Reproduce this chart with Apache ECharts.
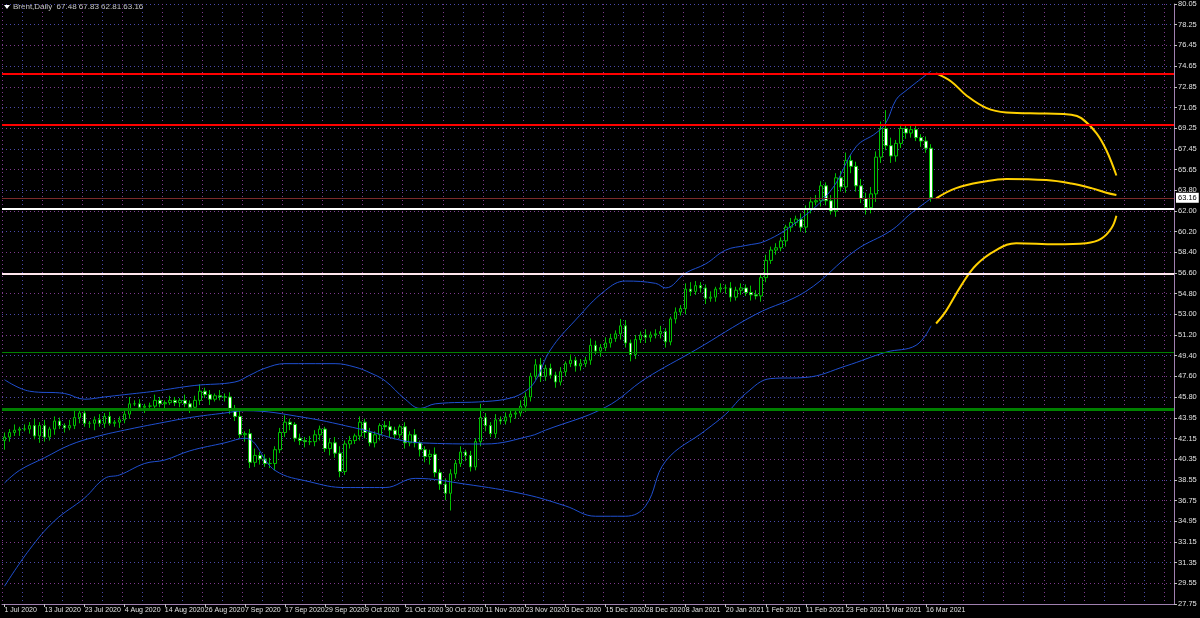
<!DOCTYPE html>
<html><head><meta charset="utf-8">
<script src="https://cdn.jsdelivr.net/npm/echarts@6/dist/echarts.min.js"></script>
<style>html,body{margin:0;padding:0;background:#000}#c{width:1200px;height:618px}</style>
</head><body><div id="c"></div>
<script>
const closes = [
42.3,42.7,42.9,43.0,43.0,43.3,42.4,43.3,42.3,43.0,43.7,43.3,43.1,43.3,44.0,44.4,43.5,43.5,43.8,43.5,44.1,43.5,43.6,43.8,44.3,45.2,45.2,44.9,45.0,45.0,45.5,45.2,45.3,45.5,45.3,45.5,45.2,44.9,45.5,46.3,46.0,45.6,45.9,45.8,45.8,44.8,
44.1,42.5,42.6,40.1,40.7,40.4,40.0,40.0,41.2,42.7,43.6,43.4,42.2,42.0,41.9,41.9,42.5,43.0,41.3,41.8,40.9,39.3,41.7,42.0,42.4,43.6,42.7,41.8,42.5,43.3,43.2,42.9,42.5,43.2,41.8,42.5,41.8,41.2,40.6,40.8,39.2,38.2,37.4,39.1,40.0,41.0,40.7,39.7,41.9,44.0,43.3,42.6,43.8,43.7,
44.05,44.3,44.4,45.0,45.8,47.6,48.6,47.6,48.3,47.7,47.1,48.0,48.7,49.0,48.5,48.7,49.0,50.3,49.8,50.1,50.5,50.9,51.3,52.0,50.5,49.5,50.8,51.2,51.0,51.2,51.3,51.5,50.6,52.6,53.2,53.5,55.2,55.0,55.5,55.3,54.4,54.5,55.2,55.3,55.3,54.5,55.1,55.3,54.9,54.7,54.6,
56.2,57.7,58.6,58.8,59.4,60.6,61.0,61.3,60.6,62.2,62.8,62.9,64.2,62.9,62.0,64.9,64.1,66.4,65.9,64.2,63.1,62.3,63.5,66.7,69.2,67.7,66.8,67.9,69.2,68.8,69.1,68.4,68.1,67.48,63.16];
const firstOpen = 42.0;
const wickUp = [
0.4,0.3,0.5,0.2,0.4,0.3,0.6,0.3,0.5,0.2, 0.4,0.3,0.2,0.5,0.6,0.3,0.4,0.2,0.3,0.5,
0.3,0.4,0.2,0.3,0.5,0.6,0.3,0.4,0.2,0.3, 0.5,0.3,0.2,0.4,0.3,0.2,0.5,0.3,0.4,0.6,
0.3,0.4,0.2,0.5,0.3,0.4,0.3,0.5,0.2,0.4, 0.6,0.3,0.4,0.5,0.3,0.4,0.6,0.3,0.2,0.4,
0.3,0.5,0.4,0.3,0.2,0.4,0.5,0.6,0.3,0.4, 0.2,0.5,0.3,0.4,0.3,0.2,0.4,0.5,0.3,0.2,
0.4,0.3,0.5,0.2,0.3,0.4,0.6,0.3,0.5,0.4, 0.3,0.5,0.2,0.4,0.3,1.2,0.4,0.3,0.5,0.3,
0.4,0.3,0.2,0.5,0.4,0.3,0.5,0.6,0.3,0.4, 0.3,0.4,0.2,0.5,0.3,0.4,0.3,0.6,0.4,0.3,
0.5,0.4,0.3,0.6,0.5,0.3,0.4,0.3,0.5,0.3, 0.4,0.5,0.3,0.2,0.4,0.3,0.5,0.6,0.4,0.3,
0.3,0.5,0.2,0.4,0.3,0.5,0.3,0.4,0.3,0.6, 0.4,0.3,0.5,0.3,0.4,0.3,0.2,0.4,0.3,0.5,
0.3,0.4,0.5,0.4,0.3,0.5,0.4,0.6,0.7,0.5, 0.4,0.6,0.5,0.6,0.5,0.6,1.6,0.7,0.3,0.4,
0.3,0.4,0.5,0.3,0.4,0.35];
const wickDn = [
0.8,0.4,0.3,0.5,0.2,0.4,0.3,0.6,0.4,0.3, 0.5,0.3,0.4,0.2,0.3,0.5,0.3,0.4,0.6,0.3,
0.4,0.2,0.3,0.5,0.3,0.4,0.2,0.3,0.5,0.3, 0.4,0.3,0.5,0.2,0.3,0.4,0.3,0.5,0.3,0.4,
0.3,0.5,0.2,0.3,0.4,0.5,0.4,0.3,0.6,0.5, 0.4,0.5,0.3,0.4,0.6,0.3,0.4,0.5,0.3,0.4,
0.5,0.3,0.4,0.5,0.3,0.6,0.4,0.5,0.3,0.4, 0.3,0.4,0.5,0.3,0.4,0.5,0.3,0.6,0.4,0.3,
0.5,0.3,0.4,0.6,0.5,0.7,0.4,0.5,0.6,1.5, 0.4,0.3,0.5,0.4,0.3,0.4,0.5,0.3,0.4,0.3,
0.3,0.5,0.4,0.3,0.5,0.4,0.3,0.5,0.4,0.3, 0.5,0.3,0.4,0.3,0.5,0.4,0.3,0.4,0.3,0.5,
0.3,0.4,0.3,0.5,0.4,0.6,0.4,0.3,0.5,0.4, 0.3,0.4,0.5,0.3,0.4,0.3,0.5,0.4,0.3,0.4,
0.5,0.3,0.4,0.3,0.5,0.4,0.3,0.4,0.3,0.5, 0.3,0.5,0.4,0.3,0.4,0.3,0.5,0.4,0.3,0.4,
0.5,0.4,0.3,0.5,0.4,0.3,0.5,0.4,0.5,0.6, 0.5,0.4,0.6,0.5,0.7,0.5,0.4,0.6,0.5,0.4,
0.5,0.4,0.3,0.5,0.4,0.35];
const bbUpper = [[0,47.3],[5,46.3],[12,46.1],[16,45.6],[20,45.8],[24,46.0],[30,46.3],[38,46.8],[46,47.1],[49,47.7],[52,48.3],[56,48.7],[66,48.7],[70,48.4],[73,47.9],[76,47.2],[80,45.6],[83,44.8],[86,45.2],[96,45.4],[101,45.7],[104,46.3],[106,47.2],[109,49.9],[114,52.5],[120,55.1],[124,55.9],[130,55.7],[132,55.3],[136,56.6],[140,57.4],[144,58.6],[148,59.0],[152,59.4],[158,61.0],[165,63.8],[170,67.6],[174,68.8],[176,69.7],[178,71.7],[180,72.5],[185,74.2]];
const bbMiddle = [[0,38.3],[3,39.4],[8,40.5],[13,41.6],[18,42.3],[25,43.0],[32,43.6],[37,44.0],[44,44.4],[48,44.6],[60,44.0],[71,43.0],[83,41.8],[96,41.7],[105,42.4],[108,42.9],[120,44.9],[128,47.4],[138,49.9],[150,53.0],[160,55.0],[170,58.6],[177,60.3],[181,61.8],[185,63.1]];
const bbLower = [[0,29.3],[5,32.5],[10,35.0],[16,37.0],[20,38.7],[23,39.0],[28,40.0],[32,40.3],[37,41.1],[44,41.8],[48,42.2],[54,39.4],[61,38.4],[68,37.9],[76,37.9],[82,38.7],[92,38.2],[104,37.3],[112,36.3],[118,35.4],[124,35.4],[128,36.3],[132,40.2],[140,42.9],[144,44.3],[148,46.1],[153,47.4],[160,47.5],[168,48.5],[176,49.7],[182,50.3],[185,52.0]];
const projUpper = [[185.6,74.0],[188.6,73.3],[191.6,72.1],[195.6,71.0],[199.6,70.6],[207.6,70.5],[212.6,70.4],[214.6,70.1],[217.6,68.8],[219.6,67.3],[222.2,65.1]];
const projMiddle = [[185.6,63.1],[189.6,64.0],[195.6,64.6],[199.6,64.8],[207.6,64.7],[212.6,64.4],[216.6,64.0],[219.6,63.6],[222.2,63.4]];
const projLower = [[185.6,52.2],[187.6,53.3],[190.6,55.5],[193.6,57.3],[197.6,58.6],[201.6,59.2],[209.6,59.1],[215.6,59.2],[218.6,59.6],[220.6,60.5],[222.2,61.6]];
const redLevels = [73.97, 69.56];
const whiteLevels = [62.2, 56.53];
const greenLevels = [49.7, 44.7];
const lastPrice = 63.16;
const dateLabels = ['1 Jul 2020','13 Jul 2020','23 Jul 2020','4 Aug 2020','14 Aug 2020','26 Aug 2020','7 Sep 2020','17 Sep 2020','29 Sep 2020','9 Oct 2020','21 Oct 2020','30 Oct 2020','11 Nov 2020','23 Nov 2020','3 Dec 2020','15 Dec 2020','28 Dec 2020','8 Jan 2021','20 Jan 2021','1 Feb 2021','11 Feb 2021','23 Feb 2021','5 Mar 2021','16 Mar 2021'];
const priceLabels = ['27.75','29.55','31.35','33.15','34.95','36.75','38.55','40.35','42.15','43.95','45.80','47.60','49.40','51.20','53.00','54.80','56.60','58.40','60.20','62.00','63.80','65.65','67.45','69.25','71.05','72.85','74.65','76.45','78.25','80.05'];
const titleText = 'Brent,Daily  67.48 67.83 62.81 63.16';
const slots = 234;

const cats = [];
for (let i = 0; i < slots; i++) cats.push(String(i));
const candles = closes.map((c, i) => {
  const o = i === 0 ? firstOpen : closes[i - 1];
  return [o, c, Math.min(o, c) - wickDn[i], Math.max(o, c) + wickUp[i]];
});
const yMin = 27.75, yMax = 80.05, yInt = (yMax - yMin) / 29;
const isLabel = (i) => i % 8 === 0 && i / 8 < dateLabels.length;

function hline(v, color, w) {
  return { yAxis: v, lineStyle: { color: color, width: w, type: 'solid' } };
}
const chart = echarts.init(document.getElementById('c'));
chart.setOption({
  backgroundColor: '#000000',
  animation: false,
  grid: { left: 2, right: 26, top: 4, bottom: 14 },
  graphic: [
    { type: 'polygon', shape: { points: [[4, 5], [10, 5], [7, 9]] }, style: { fill: '#ffffff' } },
    { type: 'text', left: 13, top: 3, style: { text: titleText, fill: '#c8c8c8', font: '8px "Liberation Sans Narrow", "Liberation Sans"' } }
  ],
  xAxis: {
    type: 'category', data: cats, boundaryGap: true,
    axisLine: { show: true, lineStyle: { color: '#a080b0', width: 1 } },
    axisTick: { show: true, alignWithLabel: true, interval: isLabel, length: 3, lineStyle: { color: '#c0c0c0' } },
    axisLabel: {
      interval: isLabel, hideOverlap: false, showMinLabel: true,
      formatter: (v) => dateLabels[Number(v) / 8] || '',
      color: '#e0e0e0', fontSize: 7, fontFamily: '"Liberation Sans Narrow", "Liberation Sans"', align: 'left', margin: 3
    },
    splitLine: { show: true, interval: (i) => i % 4 === 0, lineStyle: { color: ['#7d3a8c', '#4a4aa8'], type: [1, 3], width: 1 } }
  },
  yAxis: {
    type: 'value', position: 'right', min: yMin, max: yMax, interval: yInt,
    axisLine: { show: true, lineStyle: { color: '#a080b0' } },
    axisTick: { show: true, length: 3, lineStyle: { color: '#c0c0c0' } },
    axisLabel: {
      formatter: (v) => priceLabels[Math.round((v - yMin) / yInt)] || '',
      color: '#e0e0e0', fontSize: 7.5, fontFamily: '"Liberation Sans Narrow", "Liberation Sans"', margin: 4
    },
    splitLine: { show: true, lineStyle: { color: ['#4a4aa8', '#7d3a8c'], type: [1, 3], width: 1 } }
  },
  series: [
    {
      type: 'candlestick', data: candles, barWidth: 3,
      itemStyle: { color: '#000000', color0: '#ffffff', borderColor: '#00c000', borderColor0: '#00c000', borderWidth: 1 },
      markLine: {
        silent: true, symbol: 'none', animation: false,
        label: { show: false },
        data: [
          hline(redLevels[0], '#ff0000', 2), hline(redLevels[1], '#ff0000', 2),
          hline(whiteLevels[0], '#ffffff', 2), hline(whiteLevels[1], '#ffe6ee', 2),
          hline(greenLevels[0], '#008000', 1), hline(greenLevels[1], '#008000', 3),
          { yAxis: lastPrice, lineStyle: { color: '#7a2a2a', width: 1, type: 'solid' },
            label: { show: true, position: 'end', formatter: '63.16', color: '#000', backgroundColor: '#ffffff', fontSize: 7.5, padding: [1, 2], distance: 2 } }
        ]
      }
    },
    { type: 'line', data: bbUpper, smooth: 0.4, symbol: 'none', lineStyle: { color: '#1f4fd0', width: 1 } },
    { type: 'line', data: bbMiddle, smooth: 0.4, symbol: 'none', lineStyle: { color: '#1f4fd0', width: 1 } },
    { type: 'line', data: bbLower, smooth: 0.4, symbol: 'none', lineStyle: { color: '#1f4fd0', width: 1 } },
    { type: 'line', data: projUpper, smooth: 0.4, symbol: 'none', lineStyle: { color: '#ffd000', width: 2 } },
    { type: 'line', data: projMiddle, smooth: 0.4, symbol: 'none', lineStyle: { color: '#ffd000', width: 2 } },
    { type: 'line', data: projLower, smooth: 0.4, symbol: 'none', lineStyle: { color: '#ffd000', width: 2 } }
  ]
});
</script></body></html>
